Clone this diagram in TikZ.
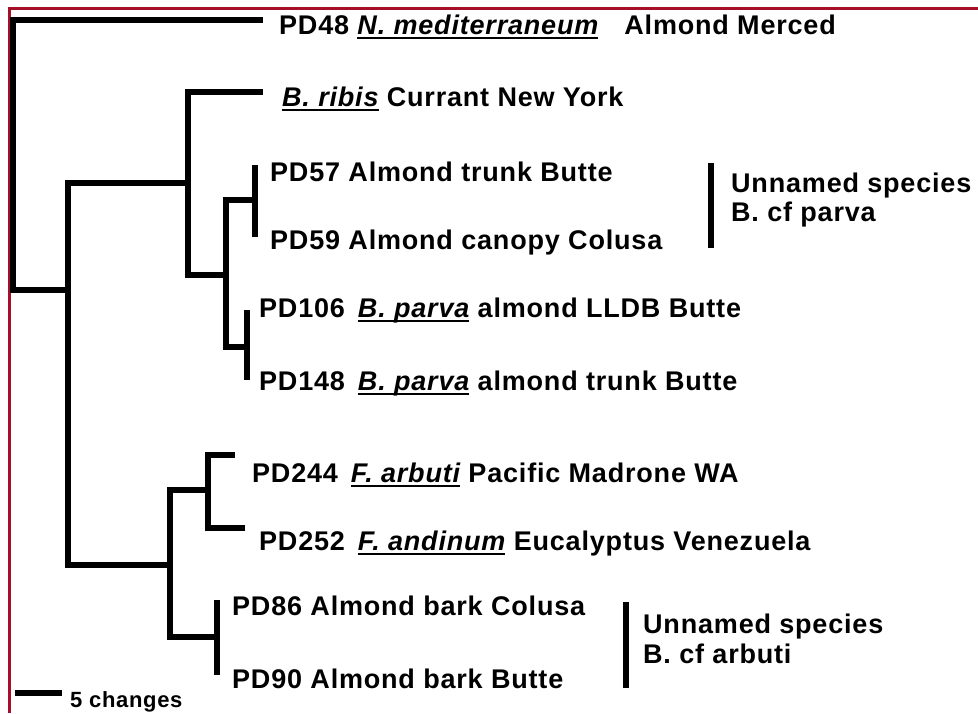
\documentclass[tikz,border=0pt]{standalone}
\usepackage{fontspec}
\setmainfont{Liberation Sans}[LetterSpace=3]
\usepackage{tikz}
\usetikzlibrary{positioning}
\definecolor{framered}{RGB}{165,15,40}
\newcommand{\spname}[1]{\sbox0{\itshape #1}\rlap{\rule[-5pt]{\wd0}{2.2pt}}\usebox0}

\begin{document}
\begin{tikzpicture}[
  x=1pt, y=-1pt,
  branch/.style={line width=6pt},
  tip/.style={anchor=base west, inner sep=0pt, font=\fontsize{27}{32}\selectfont\bfseries},
  scalelab/.style={anchor=base west, inner sep=0pt, font=\fontsize{22}{26}\selectfont\bfseries}
]
\useasboundingbox (0,0) rectangle (978,713);

\draw [framered, line width=3pt] (9,713) |- (978,8);

\coordinate (root) at (13,155);
\coordinate (t48) at (263,20);
\coordinate (nA) at (68,290);
\coordinate (nB) at (188,183);
\coordinate (tribis) at (263,92);
\coordinate (nC) at (226,275);
\coordinate (nD) at (255,200);
\coordinate (t57) at (255,165);
\coordinate (t59) at (255,237);
\coordinate (nE) at (247,347);
\coordinate (t106) at (247,310);
\coordinate (t148) at (247,380);
\coordinate (nF) at (170,565);
\coordinate (nG) at (208,490);
\coordinate (t244) at (235,455);
\coordinate (t252) at (245,528);
\coordinate (nH) at (217,637);
\coordinate (t86) at (217,600);
\coordinate (t90) at (217,675);

\draw [branch] (root) |- (t48);
\draw [branch] (root) |- (nA);
\draw [branch] (nA) |- (nB);
\draw [branch] (nA) |- (nF);
\draw [branch] (nB) |- (tribis);
\draw [branch] (nB) |- (nC);
\draw [branch] (nC) |- (nD);
\draw [branch] (nC) |- (nE);
\draw [branch] (nD) -- (t57);
\draw [branch] (nD) -- (t59);
\draw [branch] (nE) -- (t106);
\draw [branch] (nE) -- (t148);
\draw [branch] (nF) |- (nG);
\draw [branch] (nF) |- (nH);
\draw [branch] (nG) |- (t244);
\draw [branch] (nG) |- (t252);
\draw [branch] (nH) -- (t86);
\draw [branch] (nH) -- (t90);

\node (lab48) [tip] at (279,34) {PD48 \spname{N. mediterraneum}\hspace{26pt}Almond Merced};
\node (labribis) [tip] at (282,106) {\spname{B. ribis} Currant New York};
\node (lab57) [tip] at (270,181) {PD57 Almond trunk Butte};
\node (lab59) [tip] at (270,249) {PD59 Almond canopy Colusa};
\node (lab106) [tip] at (259,317) {PD106\hspace{13pt}\spname{B. parva} almond LLDB Butte};
\node (lab148) [tip] at (259,390) {PD148\hspace{13pt}\spname{B. parva} almond trunk Butte};
\node (lab244) [tip] at (252,482) {PD244\hspace{13pt}\spname{F. arbuti} Pacific Madrone WA};
\node (lab252) [tip] at (259,550) {PD252\hspace{13pt}\spname{F. andinum} Eucalyptus Venezuela};
\node (lab86) [tip] at (232,615) {PD86 Almond bark Colusa};
\node (lab90) [tip] at (232,688) {PD90 Almond bark Butte};

\coordinate (parvatop) at (711,163);
\coordinate (parvabot) at (711,248);
\draw [branch] (parvatop) -- (parvabot);
\node (parvaname) [tip] at (731,192) {Unnamed species};
\node (parvacf) [tip] at (731,221) {B. cf parva};

\coordinate (arbutitop) at (626,602);
\coordinate (arbutibot) at (626,688);
\draw [branch] (arbutitop) -- (arbutibot);
\node (arbutiname) [tip] at (643,633) {Unnamed species};
\node (arbuticf) [tip] at (643,663) {B. cf arbuti};

\coordinate (barleft) at (15,693);
\coordinate (barright) at (62,693);
\draw [branch] (barleft) -- (barright);
\node (barlab) [scalelab] at (70,707) {5 changes};

\end{tikzpicture}
\end{document}
